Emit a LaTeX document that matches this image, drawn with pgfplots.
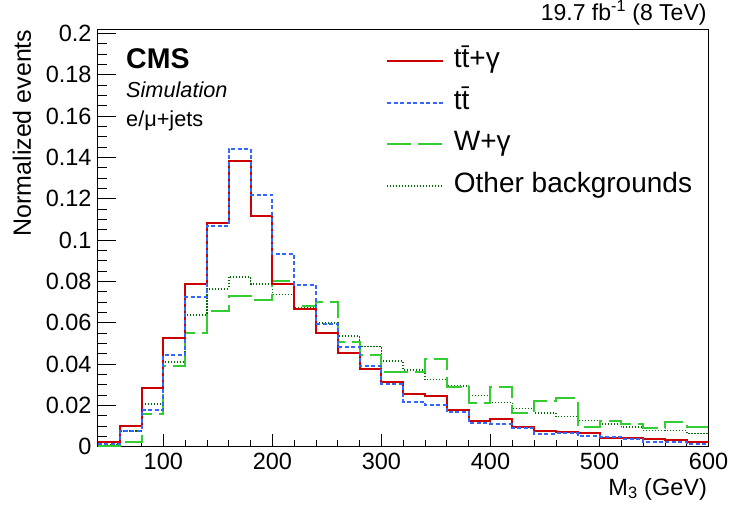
\documentclass[border=0pt]{standalone}
\usepackage{fontspec}
\setmainfont{Liberation Sans}
\usepackage{pgfplots}
\pgfplotsset{compat=1.18}
\definecolor{cmsred}{RGB}{204,0,0}
\definecolor{cmsblue}{RGB}{51,102,255}
\definecolor{cmsgreen}{RGB}{51,204,51}
\definecolor{cmsdkgreen}{RGB}{0,110,0}
\tikzset{
  sred/.style={color=cmsred, line width=2bp},
  sblue/.style={color=cmsblue, line width=2bp, dash pattern=on 4bp off 2.5bp},
  sgreen/.style={color=cmsgreen, line width=2bp, dash pattern=on 24bp off 7bp},
  sdk/.style={color=cmsdkgreen, line width=1.6bp, dash pattern=on 1.2bp off 1.8bp},
}
\begin{document}
\begin{tikzpicture}
\begin{axis}[
  at={(0,0)}, anchor=south west,
  scale only axis, width=610.7bp, height=417.3bp,
  xmin=40, xmax=600, ymin=0, ymax=0.202,
  xtick={100,200,300,400,500,600},
  minor xtick={40,60,80,100,120,140,160,180,200,220,240,260,280,300,320,340,360,380,400,420,440,460,480,500,520,540,560,580,600},
  ytick={0,0.02,0.04,0.06,0.08,0.1,0.12,0.14,0.16,0.18,0.2},
  minor ytick={0.005,0.01,0.015,0.025,0.03,0.035,0.045,0.05,0.055,0.065,0.07,0.075,0.085,0.09,0.095,0.105,0.11,0.115,0.125,0.13,0.135,0.145,0.15,0.155,0.165,0.17,0.175,0.185,0.19,0.195},
  tick align=inside, xtick pos=bottom, ytick pos=left,
  major tick length=18bp, minor tick length=9bp,
  xtick style={/pgfplots/major tick length=12.7bp,/pgfplots/minor tick length=6.3bp},
  every tick/.style={black, line width=0.8bp},
  axis line style={line width=1bp},
  scaled y ticks=false, scaled x ticks=false,
  /pgf/number format/assume math mode=true,
  yticklabel style={/pgf/number format/fixed, /pgf/number format/precision=2, inner sep=0pt, anchor=east, xshift=-6.2bp},
  xticklabel style={/pgf/number format/1000 sep={}, inner sep=0pt, anchor=north, yshift=-6.7bp},
  tick label style={font=\fontsize{23.5bp}{28bp}\selectfont},
  ylabel={Normalized events},
  ylabel style={font=\fontsize{25bp}{30bp}\selectfont, at={(axis description cs:-0.1243,1)}, anchor=east, inner sep=0pt},
  xlabel={M\textsubscript{3} (GeV)},
  xlabel style={font=\fontsize{23.5bp}{28bp}\selectfont, at={(rel axis cs:1,0)}, anchor=base east, inner sep=0pt, yshift=-48.4bp, xshift=-1.5bp},
  legend image code/.code={\draw[#1] (0bp,0bp) -- (55.7bp,0bp);},
  legend cell align=left,
  legend style={at={(0.4718,0.9564)}, anchor=north west, draw=none, fill=none, inner sep=0pt,
    row sep=14.6bp, column sep=10bp,
    font=\fontsize{28bp}{32bp}\selectfont,
    nodes={inner sep=0pt, text height=20bp, text depth=7bp}},
]
\addlegendimage{sred}\addlegendentry{t\={t}+γ}
\addlegendimage{sblue}\addlegendentry{t\={t}}
\addlegendimage{sgreen}\addlegendentry{W+γ}
\addlegendimage{sdk}\addlegendentry{Other backgrounds}

% Other backgrounds
\addplot[sdk, const plot, forget plot] coordinates {
(40,0.0010) (60,0.0075) (80,0.0205) (100,0.0410) (120,0.0638) (140,0.0764) (160,0.0822) (180,0.0788)
(200,0.0737) (220,0.0672) (240,0.0598) (260,0.0535) (280,0.0484) (300,0.0414) (320,0.0371) (340,0.0324)
(360,0.0292) (380,0.0248) (400,0.0214) (420,0.0185) (440,0.0164) (460,0.0145) (480,0.0127) (500,0.0108)
(520,0.0096) (540,0.0077) (560,0.0077) (580,0.0063) (600,0.0063)};
% W+gamma
\addplot[sgreen, const plot, forget plot] coordinates {
(40,0.0003) (60,0.0023) (80,0.0158) (100,0.0392) (120,0.0551) (140,0.0658) (160,0.0729) (180,0.0710)
(200,0.0803) (220,0.0680) (240,0.0698) (260,0.0506) (280,0.0445) (300,0.0362) (320,0.0362) (340,0.0422)
(360,0.0290) (380,0.0213) (400,0.0288) (420,0.0162) (440,0.0222) (460,0.0235) (480,0.0095) (500,0.0123)
(520,0.0110) (540,0.0090) (560,0.0119) (580,0.0093) (600,0.0093)};
% ttgamma
\addplot[sred, const plot, forget plot] coordinates {
(40,0.0023) (60,0.0101) (80,0.0285) (100,0.0526) (120,0.0787) (140,0.1084) (160,0.1381) (180,0.1115)
(200,0.0785) (220,0.0666) (240,0.0548) (260,0.0451) (280,0.0374) (300,0.0312) (320,0.0256) (340,0.0243)
(360,0.0175) (380,0.0125) (400,0.0132) (420,0.0094) (440,0.0075) (460,0.0072) (480,0.0066) (500,0.0042)
(520,0.0044) (540,0.0039) (560,0.0031) (580,0.0022) (600,0.0022)};
% ttbar
\addplot[sblue, const plot, forget plot] coordinates {
(40,0.0011) (60,0.0075) (80,0.0176) (100,0.0442) (120,0.0725) (140,0.1066) (160,0.1442) (180,0.1218)
(200,0.0933) (220,0.0784) (240,0.0594) (260,0.0481) (280,0.0389) (300,0.0303) (320,0.0216) (340,0.0200)
(360,0.0167) (380,0.0112) (400,0.0111) (420,0.0088) (440,0.0063) (460,0.0065) (480,0.0050) (500,0.0047)
(520,0.0039) (540,0.0024) (560,0.0022) (580,0.0013) (600,0.0013)};
\end{axis}
\node[anchor=base west, inner sep=0pt, font=\fontsize{28.5bp}{32bp}\selectfont\bfseries] at (28.1bp,377.6bp) {CMS};
\node[anchor=base west, inner sep=0pt, font=\fontsize{21.7bp}{26bp}\selectfont\itshape] at (28.1bp,349.3bp) {Simulation};
\node[anchor=base west, inner sep=0pt, font=\fontsize{21.7bp}{26bp}\selectfont] at (28.1bp,319.9bp) {e/μ+jets};
\node[anchor=base east, inner sep=0pt, font=\fontsize{23bp}{26bp}\selectfont] at (608.8bp,425.9bp) {19.7 fb\textsuperscript{-1} (8 TeV)};
\pgfresetboundingbox
\useasboundingbox (-97.9bp,-67.4bp) rectangle (634.1bp,446.6bp);
\end{tikzpicture}
\end{document}
